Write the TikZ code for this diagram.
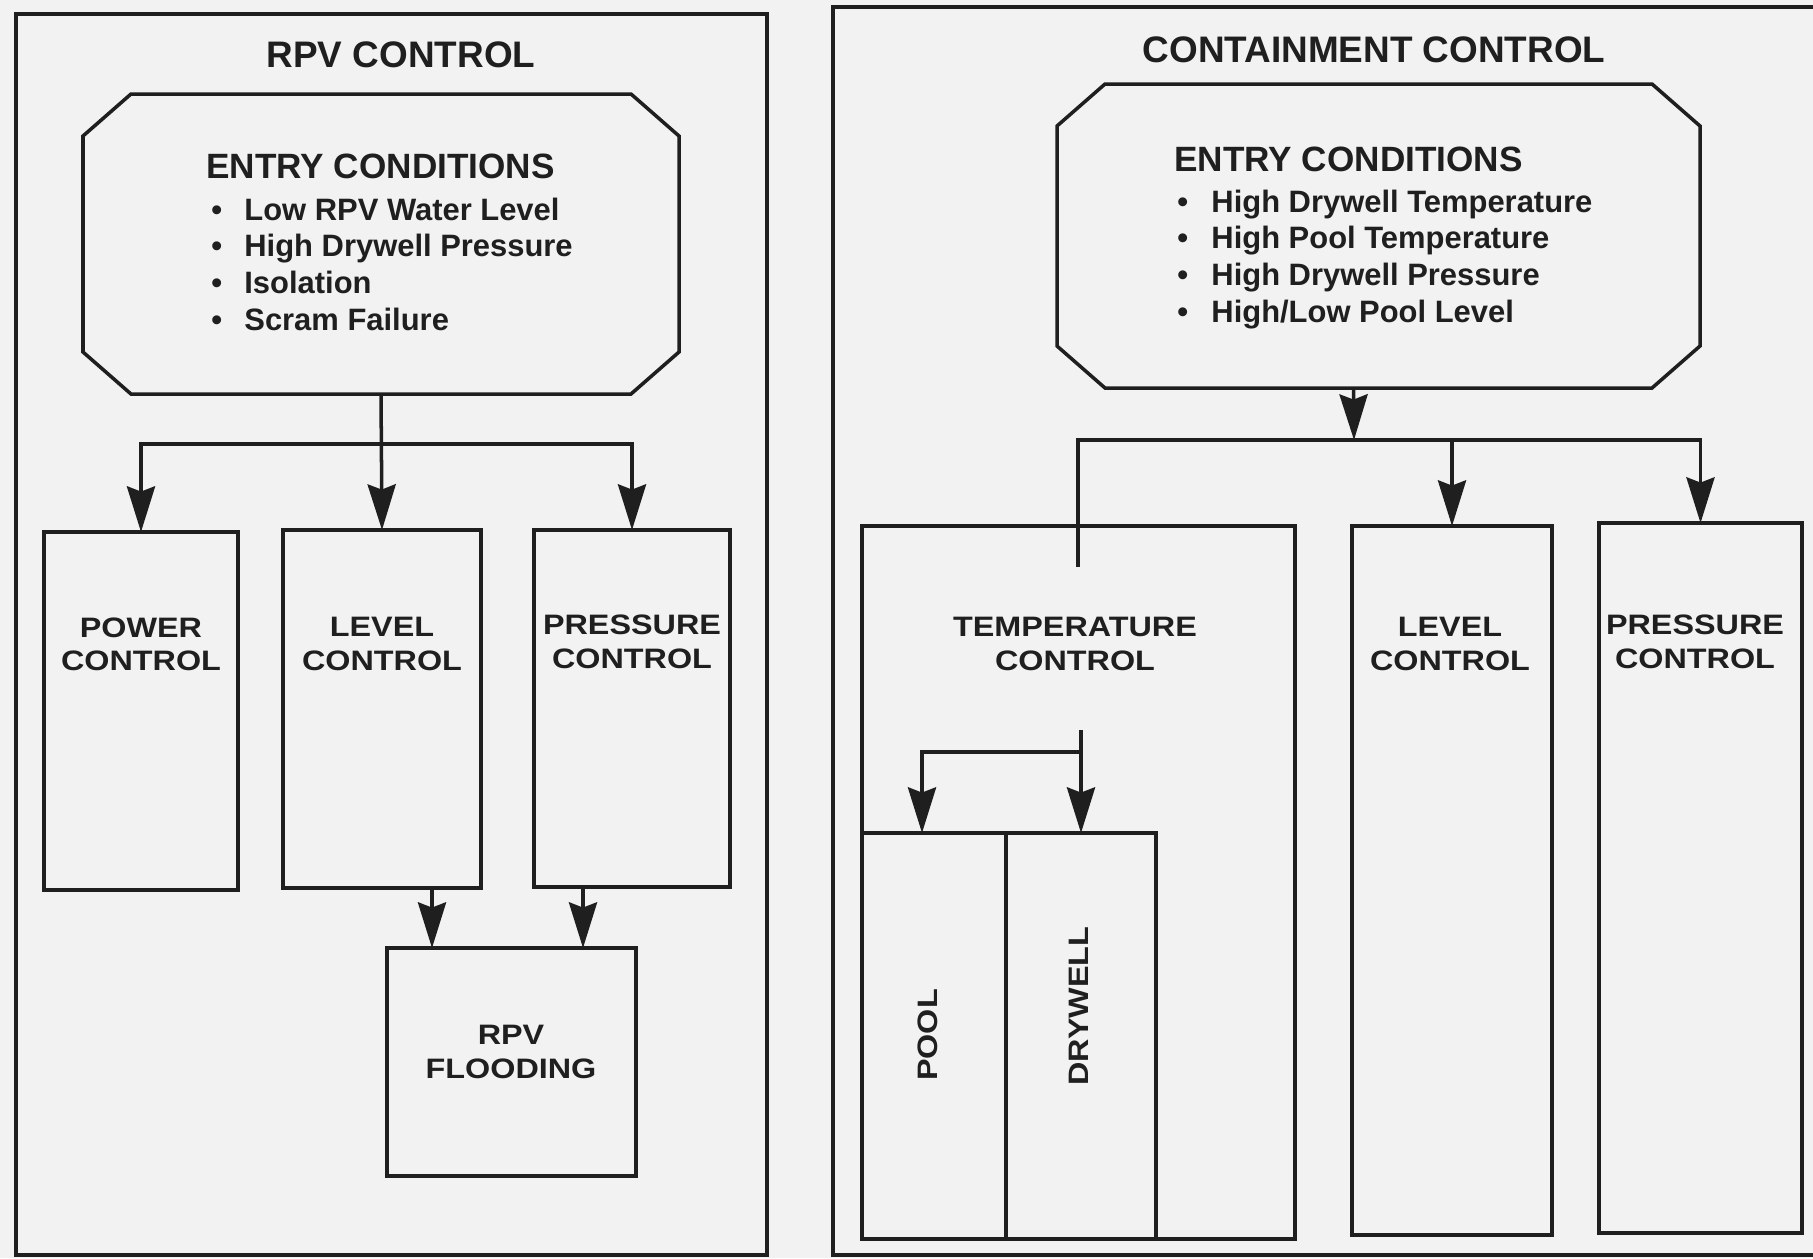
\documentclass[tikz,border=0pt]{standalone}
\usepackage{fontspec}
\setmainfont{Liberation Sans}
\newfontfamily\widefont[FakeStretch=1.15]{Liberation Sans}
\usetikzlibrary{arrows.meta}
\colorlet{ink}{black!88}

% octagonal outline round a named node
\newcommand{\chamfer}[1]{%
  \draw[ink, line width=1pt]
    ([xshift=0.48cm]#1.north west) -- ([xshift=-0.48cm]#1.north east)
    -- ([yshift=-0.42cm]#1.north east) -- ([yshift=0.42cm]#1.south east)
    -- ([xshift=-0.48cm]#1.south east) -- ([xshift=0.48cm]#1.south west)
    -- ([yshift=0.42cm]#1.south west) -- ([yshift=-0.42cm]#1.north west) -- cycle;}

\begin{document}
\begin{tikzpicture}[
    panel/.style={draw=ink, line width=1.2pt},
    box/.style={draw=ink, line width=1pt, rectangle, inner sep=0pt, outer sep=0pt},
    entry/.style={rectangle, inner sep=0pt, outer sep=0pt},
    flow/.style={draw=ink, line width=1pt, -{Stealth[length=13pt, width=8pt, inset=1.5pt]}},
    head/.style={text=ink, anchor=base, font=\fontsize{10.5}{12}\selectfont\bfseries},
    cond/.style={text=ink, anchor=base west, font=\fontsize{10}{12}\selectfont\bfseries},
    item/.style={text=ink, anchor=base west, font=\fontsize{8.8}{11}\selectfont\bfseries},
    lbl/.style={text=ink, align=center, font=\widefont\fontsize{8}{9.5}\selectfont\bfseries}
  ]
  \fill[black!5] (0.00,0.00) rectangle (18.13,-12.58);
  \useasboundingbox (0.00,0.00) rectangle (18.13,-12.58);

  % the two panels
  \draw[panel] (0.16,-0.14) rectangle (7.67,-12.55);
  \draw[panel] (8.33,-0.07) rectangle (18.25,-12.55);
  \node[head] (rpvtitle) at (4.01,-0.67) {RPV CONTROL};
  \node[head] (cnttitle) at (13.74,-0.62) {CONTAINMENT CONTROL};

  % RPV side
  \node[entry, minimum width=5.96cm, minimum height=3.00cm] (rpventry) at (3.81,-2.44) {};
  \chamfer{rpventry}
  \node[cond] (rpvcond) at (1.94,-1.78) {ENTRY CONDITIONS};
  \foreach \txt [count=\i] in {Low RPV Water Level, High Drywell Pressure, Isolation, Scram Failure}
    \node[item] (rpvitem\i) at (1.99,{-2.20-0.367*(\i-1)}) {\makebox[0.33cm][l]{\textbullet}\txt};

  \node[box, minimum width=1.94cm, minimum height=3.58cm] (rpvpow) at (1.41,-7.11) {};
  \node[box, minimum width=1.98cm, minimum height=3.58cm] (rpvlvl) at (3.82,-7.09) {};
  \node[box, minimum width=1.96cm, minimum height=3.57cm] (rpvprs) at (6.32,-7.085) {};
  \node[box, minimum width=2.49cm, minimum height=2.28cm] (flood) at (5.115,-10.62) {};
  \node[lbl] (rpvpowlbl) at (1.41,-6.44) {POWER\\CONTROL};
  \node[lbl] (rpvlvllbl) at (3.82,-6.44) {LEVEL\\CONTROL};
  \node[lbl] (rpvprslbl) at (6.32,-6.42) {PRESSURE\\CONTROL};
  \node[lbl] (floodlbl) at (5.11,-10.52) {RPV\\FLOODING};

  \coordinate (rpvbus) at (3.82,-4.44);
  \draw[flow] (rpventry.south) -- (rpvlvl.north);
  \draw[flow] (rpvbus) -| (rpvpow.north);
  \draw[flow] (rpvbus) -| (rpvprs.north);
  \draw[flow] ([xshift=0.50cm]rpvlvl.south) -- ([xshift=0.50cm]rpvlvl.south |- flood.north);
  \draw[flow] ([xshift=-0.49cm]rpvprs.south) -- ([xshift=-0.49cm]rpvprs.south |- flood.north);

  % containment side
  \node[entry, minimum width=6.43cm, minimum height=3.04cm] (cntentry) at (13.785,-2.36) {};
  \chamfer{cntentry}
  \node[cond] (cntcond) at (11.62,-1.71) {ENTRY CONDITIONS};
  \foreach \txt [count=\i] in {High Drywell Temperature, High Pool Temperature, High Drywell Pressure, High/Low Pool Level}
    \node[item] (cntitem\i) at (11.65,{-2.12-0.367*(\i-1)}) {\makebox[0.34cm][l]{\textbullet}\txt};

  \node[box, minimum width=4.33cm, minimum height=7.13cm] (tmp) at (10.785,-8.825) {};
  \node[box, minimum width=1.44cm, minimum height=4.06cm] (pool) at (9.34,-10.36) {};
  \node[box, minimum width=1.50cm, minimum height=4.06cm] (dry) at (10.81,-10.36) {};
  \node[box, minimum width=2.00cm, minimum height=7.09cm] (clvl) at (14.52,-8.805) {};
  \node[box, minimum width=2.03cm, minimum height=7.10cm] (cprs) at (17.005,-8.78) {};
  \node[lbl] (tmplbl) at (10.75,-6.44) {TEMPERATURE\\CONTROL};
  \node[lbl] (clvllbl) at (14.50,-6.44) {LEVEL\\CONTROL};
  \node[lbl] (cprslbl) at (16.95,-6.42) {PRESSURE\\CONTROL};
  \node[lbl, rotate=90] (poollbl) at (9.28,-10.35) {POOL};
  \node[lbl, rotate=90] (drylbl) at (10.79,-10.06) {DRYWELL};

  \coordinate (cntbus) at (13.54,-4.40);
  \coordinate (tmpstub) at (10.78,-5.67);
  \coordinate (tmpsplit) at (10.81,-7.30);
  \draw[flow] ([xshift=-0.25cm]cntentry.south) -- (cntbus);
  \draw[flow] (tmpstub) |- (cntbus -| cprs.north) -- (cprs.north);
  \draw[flow] (cntbus -| clvl.north) -- (clvl.north);
  \draw[flow] (tmpsplit) -- (dry.north);
  \draw[flow] ([yshift=-0.22cm]tmpsplit) -| ([xshift=-0.12cm]pool.north);
\end{tikzpicture}
\end{document}
